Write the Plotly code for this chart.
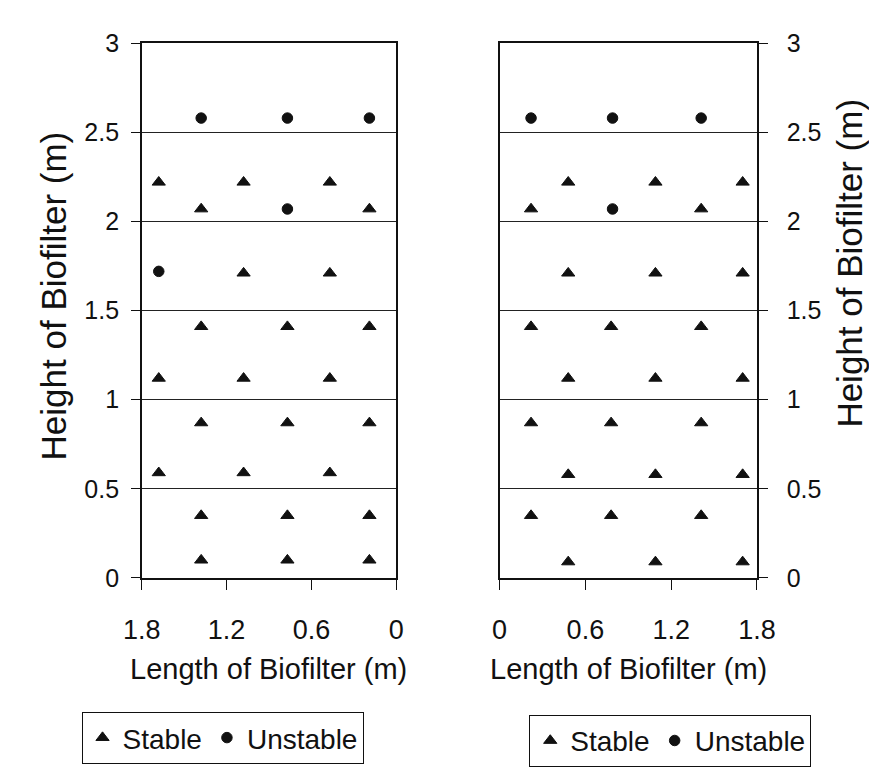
import plotly.graph_objects as go

# ---------------- data ----------------
# Left panel (length axis runs 1.8 -> 0)
left_stable_x = [1.68, 1.08, 0.47, 1.38, 0.19, 1.08, 0.47,
                 1.38, 0.77, 0.19, 1.68, 1.08, 0.47,
                 1.38, 0.77, 0.19, 1.68, 1.08, 0.47,
                 1.38, 0.77, 0.19, 1.38, 0.77, 0.19]
left_stable_y = [2.22, 2.22, 2.22, 2.07, 2.07, 1.71, 1.71,
                 1.41, 1.41, 1.41, 1.12, 1.12, 1.12,
                 0.87, 0.87, 0.87, 0.59, 0.59, 0.59,
                 0.35, 0.35, 0.35, 0.10, 0.10, 0.10]
left_unstable_x = [1.38, 0.77, 0.19, 0.77, 1.68]
left_unstable_y = [2.58, 2.58, 2.58, 2.07, 1.72]

# Right panel (length axis runs 0 -> 1.8)
right_stable_x = [0.48, 1.09, 1.70, 0.22, 1.41, 0.48, 1.09, 1.70,
                  0.22, 0.78, 1.41, 0.48, 1.09, 1.70,
                  0.22, 0.78, 1.41, 0.48, 1.09, 1.70,
                  0.22, 0.78, 1.41, 0.48, 1.09, 1.70]
right_stable_y = [2.22, 2.22, 2.22, 2.07, 2.07, 1.71, 1.71, 1.71,
                  1.41, 1.41, 1.41, 1.12, 1.12, 1.12,
                  0.87, 0.87, 0.87, 0.58, 0.58, 0.58,
                  0.35, 0.35, 0.35, 0.09, 0.09, 0.09]
right_unstable_x = [0.22, 0.79, 1.41, 0.79]
right_unstable_y = [2.58, 2.58, 2.58, 2.07]

y_ticks = [0, 0.5, 1, 1.5, 2, 2.5, 3]
y_tick_labels = ["0", "0.5", "1", "1.5", "2", "2.5", "3"]
x_ticks = [0, 0.6, 1.2, 1.8]
x_tick_labels = ["0", "0.6", "1.2", "1.8"]

x_title = "Length of Biofilter (m)"
y_title = "Height of Biofilter (m)"

# ---------------- figure ----------------
W, H = 877, 768
FONT = "Liberation Sans, Arial, sans-serif"
INK = "#111111"

fig = go.Figure()

def add(x, y, name, symbol, xa, ya, legend, size):
    fig.add_trace(go.Scatter(
        x=x, y=y, mode="markers", name=name,
        marker=dict(symbol=symbol, size=size, color=INK,
                    line=dict(width=1, color=INK)),
        xaxis=xa, yaxis=ya, legend=legend, showlegend=True,
    ))

add(left_stable_x, left_stable_y, "Stable", "triangle-up", "x", "y", "legend", 11.5)
add(left_unstable_x, left_unstable_y, "Unstable", "circle", "x", "y", "legend", 10.5)
add(right_stable_x, right_stable_y, "Stable", "triangle-up", "x2", "y2", "legend2", 11.5)
add(right_unstable_x, right_unstable_y, "Unstable", "circle", "x2", "y2", "legend2", 10.5)

px_x = lambda p: p / W
px_y = lambda p: 1 - p / H

common_x = dict(
    tickmode="array", tickvals=x_ticks, ticktext=x_tick_labels,
    ticks="outside", ticklen=10, tickcolor=INK, tickwidth=1,
    showline=True, linecolor=INK, linewidth=1.5, mirror=True,
    showgrid=False, zeroline=False, ticklabelstandoff=17,
    tickfont=dict(family=FONT, size=27, color=INK),
)
common_y = dict(
    range=[0, 3],
    tickmode="array", tickvals=y_ticks, ticktext=y_tick_labels,
    ticks="outside", ticklen=9, tickcolor=INK, tickwidth=1,
    showline=True, linecolor=INK, linewidth=1.5, mirror=True,
    showgrid=True, gridcolor="#222222", gridwidth=1,
    zeroline=False,
    tickfont=dict(family=FONT, size=25, color=INK),
)

ydom = [px_y(577), px_y(22)]

TITLE_FONT = dict(family=FONT, size=29, color=INK)
YTITLE_FONT = dict(family=FONT, size=35, color=INK)

fig.update_layout(
    width=W, height=H,
    margin=dict(l=0, r=0, t=0, b=0),
    paper_bgcolor="white", plot_bgcolor="white",
    font=dict(family=FONT, color=INK),
    xaxis=dict(domain=[px_x(120), px_x(386)], range=[1.8, 0], anchor="y", **common_x),
    yaxis=dict(domain=ydom, anchor="x", side="left", ticklabelstandoff=7, **common_y),
    xaxis2=dict(domain=[px_x(494), px_x(763)], range=[0, 1.8], anchor="y2", **common_x),
    yaxis2=dict(domain=ydom, anchor="x2", side="right", ticklabelstandoff=14, **common_y),
    legend=dict(
        x=px_x(57), y=px_y(716), xanchor="left", yanchor="top",
        orientation="h", bgcolor="white", bordercolor=INK, borderwidth=1,
        font=dict(family=FONT, size=28, color=INK),
    ),
    legend2=dict(
        x=px_x(525), y=px_y(719), xanchor="left", yanchor="top",
        orientation="h", bgcolor="white", bordercolor=INK, borderwidth=1,
        font=dict(family=FONT, size=28, color=INK),
    ),
    annotations=[
        dict(text=x_title, x=px_x(252), y=px_y(671), xref="paper", yref="paper",
             xanchor="center", yanchor="middle",
             showarrow=False, font=TITLE_FONT),
        dict(text=x_title, x=px_x(629), y=px_y(671), xref="paper", yref="paper",
             xanchor="center", yanchor="middle",
             showarrow=False, font=TITLE_FONT),
        dict(text=y_title, x=px_x(28), y=px_y(284), xref="paper", yref="paper",
             xanchor="center", yanchor="middle",
             showarrow=False, textangle=-90, font=YTITLE_FONT),
        dict(text=y_title, x=px_x(860), y=px_y(250), xref="paper", yref="paper",
             xanchor="center", yanchor="middle",
             showarrow=False, textangle=-90, font=YTITLE_FONT),
    ],
)

fig.write_html("out.html")
